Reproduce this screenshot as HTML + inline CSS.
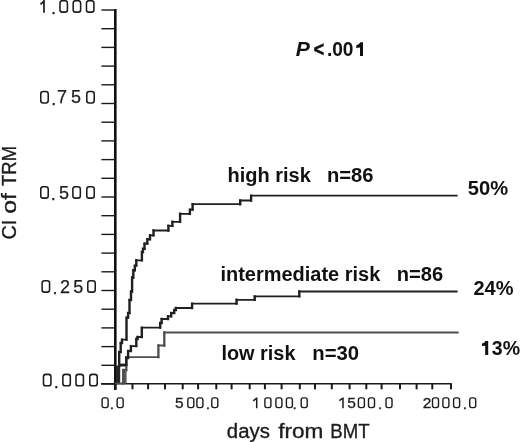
<!DOCTYPE html><html><head><meta charset="utf-8"><style>
html,body{margin:0;padding:0;background:#fff;width:520px;height:442px;overflow:hidden}
svg{display:block;will-change:transform}
text{font-family:"Liberation Sans",sans-serif;fill:#1c1c1c}
.yl{font-size:18px;stroke:#1c1c1c;stroke-width:0.25px}
.xl{font-size:15.5px;stroke:#1c1c1c;stroke-width:0.3px}
.ax{font-size:20px;stroke:#1c1c1c;stroke-width:0.35px}
.b{font-size:19.5px;font-weight:bold;fill:#111}
</style></head><body>
<svg width="520" height="442" viewBox="0 0 520 442">
<rect x="114" y="9" width="2.6" height="381" fill="#111"/><line x1="101.4" y1="10.00" x2="115" y2="10.00" stroke="#1a1a1a" stroke-width="1.4"/><line x1="101.4" y1="28.70" x2="115" y2="28.70" stroke="#1a1a1a" stroke-width="1.4"/><line x1="101.4" y1="47.40" x2="115" y2="47.40" stroke="#1a1a1a" stroke-width="1.4"/><line x1="101.4" y1="66.10" x2="115" y2="66.10" stroke="#1a1a1a" stroke-width="1.4"/><line x1="101.4" y1="84.80" x2="115" y2="84.80" stroke="#1a1a1a" stroke-width="1.4"/><line x1="101.4" y1="103.50" x2="115" y2="103.50" stroke="#1a1a1a" stroke-width="1.4"/><line x1="101.4" y1="122.20" x2="115" y2="122.20" stroke="#1a1a1a" stroke-width="1.4"/><line x1="101.4" y1="140.90" x2="115" y2="140.90" stroke="#1a1a1a" stroke-width="1.4"/><line x1="101.4" y1="159.60" x2="115" y2="159.60" stroke="#1a1a1a" stroke-width="1.4"/><line x1="101.4" y1="178.30" x2="115" y2="178.30" stroke="#1a1a1a" stroke-width="1.4"/><line x1="101.4" y1="197.00" x2="115" y2="197.00" stroke="#1a1a1a" stroke-width="1.4"/><line x1="101.4" y1="215.70" x2="115" y2="215.70" stroke="#1a1a1a" stroke-width="1.4"/><line x1="101.4" y1="234.40" x2="115" y2="234.40" stroke="#1a1a1a" stroke-width="1.4"/><line x1="101.4" y1="253.10" x2="115" y2="253.10" stroke="#1a1a1a" stroke-width="1.4"/><line x1="101.4" y1="271.80" x2="115" y2="271.80" stroke="#1a1a1a" stroke-width="1.4"/><line x1="101.4" y1="290.50" x2="115" y2="290.50" stroke="#1a1a1a" stroke-width="1.4"/><line x1="101.4" y1="309.20" x2="115" y2="309.20" stroke="#1a1a1a" stroke-width="1.4"/><line x1="101.4" y1="327.90" x2="115" y2="327.90" stroke="#1a1a1a" stroke-width="1.4"/><line x1="101.4" y1="346.60" x2="115" y2="346.60" stroke="#1a1a1a" stroke-width="1.4"/><line x1="101.4" y1="365.30" x2="115" y2="365.30" stroke="#1a1a1a" stroke-width="1.4"/><line x1="101.4" y1="384.00" x2="115" y2="384.00" stroke="#1a1a1a" stroke-width="1.4"/><line x1="101" y1="383.7" x2="451.8" y2="383.7" stroke="#1a1a1a" stroke-width="1.6"/><line x1="115.30" y1="384" x2="115.30" y2="389.3" stroke="#1a1a1a" stroke-width="2"/><line x1="132.50" y1="384" x2="132.50" y2="389.3" stroke="#1a1a1a" stroke-width="2"/><line x1="148.10" y1="384" x2="148.10" y2="389.3" stroke="#1a1a1a" stroke-width="2"/><line x1="165.00" y1="384" x2="165.00" y2="389.3" stroke="#1a1a1a" stroke-width="2"/><line x1="182.70" y1="384" x2="182.70" y2="389.3" stroke="#1a1a1a" stroke-width="2"/><line x1="198.10" y1="384" x2="198.10" y2="389.3" stroke="#1a1a1a" stroke-width="2"/><line x1="216.30" y1="384" x2="216.30" y2="389.3" stroke="#1a1a1a" stroke-width="2"/><line x1="231.60" y1="384" x2="231.60" y2="389.3" stroke="#1a1a1a" stroke-width="2"/><line x1="249.70" y1="384" x2="249.70" y2="389.3" stroke="#1a1a1a" stroke-width="2"/><line x1="264.90" y1="384" x2="264.90" y2="389.3" stroke="#1a1a1a" stroke-width="2"/><line x1="281.60" y1="384" x2="281.60" y2="389.3" stroke="#1a1a1a" stroke-width="2"/><line x1="299.80" y1="384" x2="299.80" y2="389.3" stroke="#1a1a1a" stroke-width="2"/><line x1="315.00" y1="384" x2="315.00" y2="389.3" stroke="#1a1a1a" stroke-width="2"/><line x1="331.80" y1="384" x2="331.80" y2="389.3" stroke="#1a1a1a" stroke-width="2"/><line x1="349.60" y1="384" x2="349.60" y2="389.3" stroke="#1a1a1a" stroke-width="2"/><line x1="366.30" y1="384" x2="366.30" y2="389.3" stroke="#1a1a1a" stroke-width="2"/><line x1="381.60" y1="384" x2="381.60" y2="389.3" stroke="#1a1a1a" stroke-width="2"/><line x1="400.00" y1="384" x2="400.00" y2="389.3" stroke="#1a1a1a" stroke-width="2"/><line x1="416.60" y1="384" x2="416.60" y2="389.3" stroke="#1a1a1a" stroke-width="2"/><line x1="432.30" y1="384" x2="432.30" y2="389.3" stroke="#1a1a1a" stroke-width="2"/><line x1="451.00" y1="384" x2="451.00" y2="389.3" stroke="#1a1a1a" stroke-width="2"/>
<rect x="122.4" y="369.5" width="4.2" height="14" fill="#5c5c5c"/>
<rect x="116" y="365.5" width="4.2" height="18" fill="#262626"/>
<rect x="120" y="363.6" width="5" height="2.9" fill="#262626"/>
<path d="M116 383.3H123.3M123.3 370H126.3M126.3 357.2H158.4M158.4 345.5H164.3M164.3 332.5H457.8" fill="none" stroke="#4e4e4e" stroke-width="1.8" stroke-linecap="square"/><path d="M123.3 383.3V370M126.3 370V357.2M158.4 357.2V345.5M164.3 345.5V332.5" fill="none" stroke="#4e4e4e" stroke-width="2.3" stroke-linecap="square"/>
<path d="M120 365H126.3M126.3 358H128.1M128.1 351H130.9M130.9 346.1H136.3M136.3 339H137.5M137.5 337H141.8M141.8 327.6H160.2M160.2 323H161.6M161.6 319H168M168 316.3H171.2M171.2 313H174.2M174.2 310H175.8M175.8 308H192.1M192.1 303.6H236.6M236.6 299.8H254.7M254.7 296.4H299.3M299.3 291.5H456.7" fill="none" stroke="#202020" stroke-width="1.8" stroke-linecap="square"/><path d="M126.3 365V358M128.1 358V351M130.9 351V346.1M136.3 346.1V339M137.5 339V337M141.8 337V327.6M160.2 327.6V323M161.6 323V319M168 319V316.3M171.2 316.3V313M174.2 313V310M175.8 310V308M192.1 308V303.6M236.6 303.6V299.8M254.7 299.8V296.4M299.3 296.4V291.5" fill="none" stroke="#202020" stroke-width="2.4" stroke-linecap="square"/>
<path d="M119.2 352H120.7M120.7 343H122M122 339.6H126.5M126.5 317.6H128.1M128.1 313H129.5M129.5 300H131M131 291.5H132.1M132.1 277.5H133.3M133.3 270.3H134.8M134.8 265.6H136.3M136.3 260.3H141.9M141.9 252H143M143 248.8H144.5M144.5 243.6H147.3M147.3 239.3H150M150 235.3H153.5M153.5 230.5H168.4M168.4 225.8H172.4M172.4 221.8H180.1M180.1 213.8H189.9M189.9 209.6H192.6M192.6 204.2H240.2M240.2 200.5H251.1M251.1 195.7H456.7" fill="none" stroke="#202020" stroke-width="1.8" stroke-linecap="square"/><path d="M119.2 366V352M120.7 352V343M122 343V339.6M126.5 339.6V317.6M128.1 317.6V313M129.5 313V300M131 300V291.5M132.1 291.5V277.5M133.3 277.5V270.3M134.8 270.3V265.6M136.3 265.6V260.3M141.9 260.3V252M143 252V248.8M144.5 248.8V243.6M147.3 243.6V239.3M150 239.3V235.3M153.5 235.3V230.5M168.4 230.5V225.8M172.4 225.8V221.8M180.1 221.8V213.8M189.9 213.8V209.6M192.6 209.6V204.2M240.2 204.2V200.5M251.1 200.5V195.7" fill="none" stroke="#202020" stroke-width="2.4" stroke-linecap="square"/>
<text class="yl" x="50.90" y="13.80">.</text><rect x="59.98" y="0.68" width="7.45" height="11.45" rx="2.4" fill="none" stroke="#1c1c1c" stroke-width="1.55"/><rect x="73.18" y="0.68" width="7.45" height="11.45" rx="2.4" fill="none" stroke="#1c1c1c" stroke-width="1.55"/><rect x="86.48" y="0.68" width="7.45" height="11.45" rx="2.4" fill="none" stroke="#1c1c1c" stroke-width="1.55"/>
<text class="yl" x="51.20 56.89 71.01" y="104.60 103.40 103.40">.75</text><rect x="40.77" y="91.48" width="7.45" height="11.45" rx="2.4" fill="none" stroke="#1c1c1c" stroke-width="1.55"/><rect x="86.78" y="91.48" width="7.45" height="11.45" rx="2.4" fill="none" stroke="#1c1c1c" stroke-width="1.55"/>
<text class="yl" x="50.80 59.01" y="199.80 198.60">.5</text><rect x="40.77" y="186.68" width="7.45" height="11.45" rx="2.4" fill="none" stroke="#1c1c1c" stroke-width="1.55"/><rect x="72.88" y="186.68" width="7.45" height="11.45" rx="2.4" fill="none" stroke="#1c1c1c" stroke-width="1.55"/><rect x="86.78" y="186.68" width="7.45" height="11.45" rx="2.4" fill="none" stroke="#1c1c1c" stroke-width="1.55"/>
<text class="yl" x="52.50 59.89 73.31" y="293.80 292.60 292.60">.25</text><rect x="42.12" y="280.68" width="7.45" height="11.45" rx="2.4" fill="none" stroke="#1c1c1c" stroke-width="1.55"/><rect x="87.78" y="280.68" width="7.45" height="11.45" rx="2.4" fill="none" stroke="#1c1c1c" stroke-width="1.55"/>
<text class="yl" x="53.70" y="387.50">.</text><rect x="43.48" y="374.38" width="7.45" height="11.45" rx="2.4" fill="none" stroke="#1c1c1c" stroke-width="1.55"/><rect x="62.87" y="374.38" width="7.45" height="11.45" rx="2.4" fill="none" stroke="#1c1c1c" stroke-width="1.55"/><rect x="75.98" y="374.38" width="7.45" height="11.45" rx="2.4" fill="none" stroke="#1c1c1c" stroke-width="1.55"/><rect x="89.78" y="374.38" width="7.45" height="11.45" rx="2.4" fill="none" stroke="#1c1c1c" stroke-width="1.55"/>
<path d="M44 -0.5 V12.8 M40.5 4.3 L44 1.1" fill="none" stroke="#1c1c1c" stroke-width="1.7"/>
<path d="M256.7 397.6 V408.3 M253.2 400.9 L256.6 398.2" fill="none" stroke="#1c1c1c" stroke-width="1.5"/>
<path d="M343 397.6 V408.3 M339.4 400.7 L342.8 398.2" fill="none" stroke="#1c1c1c" stroke-width="1.5"/>
<text class="xl" x="109.85" y="408.90">.</text><rect x="102.10" y="397.90" width="6.00" height="9.70" rx="2.0" fill="none" stroke="#1c1c1c" stroke-width="1.4"/><rect x="117.15" y="397.90" width="6.00" height="9.70" rx="2.0" fill="none" stroke="#1c1c1c" stroke-width="1.4"/>
<text class="xl" x="175.10 205.65" y="408.40 408.90">5.</text><rect x="187.80" y="397.90" width="6.00" height="9.70" rx="2.0" fill="none" stroke="#1c1c1c" stroke-width="1.4"/><rect x="196.90" y="397.90" width="6.00" height="9.70" rx="2.0" fill="none" stroke="#1c1c1c" stroke-width="1.4"/><rect x="211.80" y="397.90" width="6.00" height="9.70" rx="2.0" fill="none" stroke="#1c1c1c" stroke-width="1.4"/>
<text class="xl" x="292.55" y="408.90">.</text><rect x="264.90" y="397.90" width="6.00" height="9.70" rx="2.0" fill="none" stroke="#1c1c1c" stroke-width="1.4"/><rect x="275.90" y="397.90" width="6.00" height="9.70" rx="2.0" fill="none" stroke="#1c1c1c" stroke-width="1.4"/><rect x="286.40" y="397.90" width="6.00" height="9.70" rx="2.0" fill="none" stroke="#1c1c1c" stroke-width="1.4"/><rect x="301.20" y="397.90" width="6.00" height="9.70" rx="2.0" fill="none" stroke="#1c1c1c" stroke-width="1.4"/>
<text class="xl" x="347.20 377.95" y="408.40 408.90">5.</text><rect x="358.40" y="397.90" width="6.00" height="9.70" rx="2.0" fill="none" stroke="#1c1c1c" stroke-width="1.4"/><rect x="368.50" y="397.90" width="6.00" height="9.70" rx="2.0" fill="none" stroke="#1c1c1c" stroke-width="1.4"/><rect x="386.00" y="397.90" width="6.00" height="9.70" rx="2.0" fill="none" stroke="#1c1c1c" stroke-width="1.4"/>
<text class="xl" x="422.79 462.85" y="408.40 408.90">2.</text><rect x="432.50" y="397.90" width="6.00" height="9.70" rx="2.0" fill="none" stroke="#1c1c1c" stroke-width="1.4"/><rect x="442.90" y="397.90" width="6.00" height="9.70" rx="2.0" fill="none" stroke="#1c1c1c" stroke-width="1.4"/><rect x="453.60" y="397.90" width="6.00" height="9.70" rx="2.0" fill="none" stroke="#1c1c1c" stroke-width="1.4"/><rect x="469.70" y="397.90" width="6.00" height="9.70" rx="2.0" fill="none" stroke="#1c1c1c" stroke-width="1.4"/>
<text class="ax" x="226.85" y="437.6" textLength="42.99" lengthAdjust="spacingAndGlyphs">days</text>
<text class="ax" x="278.18" y="437.6" textLength="45.11" lengthAdjust="spacingAndGlyphs">from</text>
<text class="ax" x="330.37" y="437.6" textLength="39.25" lengthAdjust="spacingAndGlyphs">BMT</text>
<text class="ax" transform="translate(16.3,0) rotate(-90)" x="-239.61" y="0" textLength="19.84" lengthAdjust="spacingAndGlyphs">CI</text>
<text class="ax" transform="translate(16.3,0) rotate(-90)" x="-213.84" y="0" textLength="20.60" lengthAdjust="spacingAndGlyphs">of</text>
<text class="ax" transform="translate(16.3,0) rotate(-90)" x="-185.91" y="0" textLength="39.93" lengthAdjust="spacingAndGlyphs">TRM</text>
<text class="b" x="295.83" y="55.7" textLength="14.14" lengthAdjust="spacingAndGlyphs" font-style="italic">P</text>
<text class="b" x="313.86" y="55.7" textLength="10.25" lengthAdjust="spacingAndGlyphs" stroke="#111" stroke-width="0.7">&lt;</text>
<text class="b" x="326.90" y="55.7" textLength="26.58" lengthAdjust="spacingAndGlyphs">.00</text>
<path d="M363 42.2 V55.9 H360 V47.6 L356.2 48 V45.4 Q359.2 44.8 360.3 42.2 Z" fill="#111"/>
<text class="b" x="227.50" y="181.6" textLength="83.38" lengthAdjust="spacingAndGlyphs">high risk</text>
<text class="b" x="327.07" y="181.8" textLength="46.45" lengthAdjust="spacingAndGlyphs">n=86</text>
<text class="b" x="220.41" y="281.3" textLength="159.88" lengthAdjust="spacingAndGlyphs">intermediate risk</text>
<text class="b" x="396.77" y="281.3" textLength="46.45" lengthAdjust="spacingAndGlyphs">n=86</text>
<text class="b" x="221.41" y="359.7" textLength="74.07" lengthAdjust="spacingAndGlyphs">low risk</text>
<text class="b" x="312.36" y="359.7" textLength="46.77" lengthAdjust="spacingAndGlyphs">n=30</text>
<text class="b" x="467.88" y="194.8" textLength="40.35" lengthAdjust="spacingAndGlyphs">50%</text>
<text class="b" x="473.51" y="294.8" textLength="40.02" lengthAdjust="spacingAndGlyphs">24%</text>
<path d="M488.2 341 V354.9 H485.2 V345.8 L482 346.1 V343.6 Q484.6 343.2 485.4 341 Z" fill="#111"/>
<text class="b" x="491.85" y="354.8" textLength="28.26" lengthAdjust="spacingAndGlyphs">3%</text>
</svg></body></html>
